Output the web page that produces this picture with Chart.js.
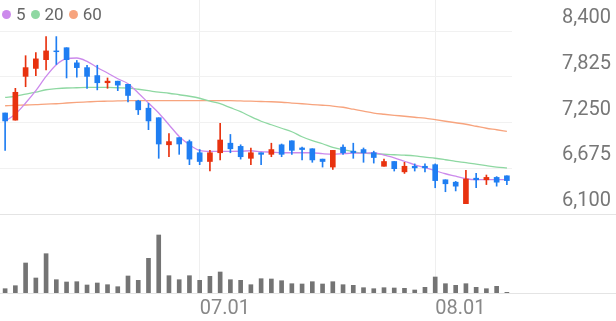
<!DOCTYPE html>
<html>
<head>
<meta charset="utf-8">
<script src="https://cdn.jsdelivr.net/npm/chart.js@4"></script>
<style>
  body { margin: 0; background: #fff; }
  #wrap { position: relative; width: 616px; height: 321px; }
  #legend { position: absolute; left: 2px; top: 4px; font: 17px Roboto, sans-serif; color: #666; display: flex; align-items: center; }
  #legend span.dot { display: inline-block; width: 9px; height: 9px; border-radius: 50%; margin-right: 5px; }
  #legend span.txt { margin-right: 5px; }
</style>
</head>
<body>
<div id="wrap">
  <canvas id="myChart" width="616" height="321"></canvas>
  <div id="legend"></div>
</div>
<script>
// 날짜 (거래일)
const labels = ['06.03','06.04','06.05','06.07','06.10','06.11','06.12','06.13','06.14','06.17',
    '06.18','06.19','06.20','06.21','06.24','06.25','06.26','06.27','06.28','07.01',
    '07.02','07.03','07.04','07.05','07.08','07.09','07.10','07.11','07.12','07.15',
    '07.16','07.17','07.18','07.19','07.22','07.23','07.24','07.25','07.26','07.29',
    '07.30','07.31','08.01','08.02','08.05','08.06','08.07','08.08','08.09','08.12'];
const monthTicks = ['07.01', '08.01'];

// 시가 / 종가 / 고가 / 저가
const open = [7370, 7280, 7830, 7930, 8040, 8150, 8190, 8000, 7940, 7840, 7750, 7770, 7730, 7520, 7430, 7310, 6970, 7060, 7010, 6870,
    6760, 6870, 6990, 6950, 6800, 6870, 6850, 6970, 7020, 6930, 6920, 6790, 6690, 6940, 6890, 6910, 6870, 6700, 6760, 6630,
    6700, 6700, 6720, 6530, 6500, 6230, 6550, 6530, 6560, 6580];
const close = [7270, 7630, 7940, 8050, 8150, 8140, 8040, 7940, 7830, 7750, 7770, 7720, 7590, 7410, 7270, 6980, 7010, 6980, 6790, 6760,
    6870, 7030, 6920, 6820, 6870, 6850, 6910, 6850, 6900, 6910, 6780, 6760, 6900, 6870, 6870, 6870, 6810, 6760, 6670, 6700,
    6680, 6680, 6520, 6480, 6450, 6540, 6530, 6560, 6500, 6520];
const high = [7370, 7680, 8090, 8130, 8330, 8330, 8190, 8030, 7970, 7970, 7810, 7770, 7730, 7530, 7490, 7310, 7110, 7060, 7030, 6910,
    6900, 7240, 7100, 6970, 6930, 6870, 6990, 6980, 7020, 6940, 6920, 6790, 6900, 6970, 6990, 6930, 6890, 6790, 6760, 6750,
    6730, 6730, 6730, 6530, 6510, 6650, 6610, 6590, 6570, 6580];
const low = [6900, 7280, 7700, 7840, 7910, 7980, 7810, 7820, 7680, 7660, 7680, 7650, 7510, 7350, 7160, 6800, 6820, 6850, 6720, 6720,
    6640, 6780, 6870, 6790, 6720, 6720, 6820, 6820, 6850, 6780, 6750, 6690, 6660, 6850, 6800, 6750, 6740, 6700, 6640, 6610,
    6640, 6630, 6430, 6380, 6390, 6230, 6430, 6470, 6450, 6470];

// 이동평균선
const ma5 = [7264, 7357, 7495, 7650, 7829, 7976, 8052, 8061, 8018, 7942, 7872, 7800, 7738, 7621, 7495, 7369, 7222, 7075, 6971, 6899,
    6887, 6887, 6887, 6889, 6895, 6883, 6877, 6870, 6870, 6870, 6870, 6858, 6851, 6858, 6864, 6864, 6870, 6839, 6807, 6763,
    6719, 6682, 6644, 6606, 6575, 6543, 6531, 6531, 6531, 6531];
const ma20 = [7565, 7580, 7606, 7631, 7662, 7675, 7684, 7687, 7691, 7691, 7691, 7687, 7684, 7668, 7650, 7631, 7618, 7599, 7580, 7555,
    7518, 7486, 7436, 7386, 7323, 7266, 7222, 7178, 7134, 7071, 7021, 6983, 6939, 6908, 6883, 6864, 6858, 6851, 6845, 6839,
    6830, 6814, 6801, 6782, 6761, 6745, 6726, 6707, 6690, 6678];
const ma60 = [7461, 7465, 7470, 7474, 7482, 7486, 7495, 7503, 7509, 7515, 7518, 7521, 7524, 7524, 7524, 7524, 7524, 7524, 7524, 7524,
    7524, 7524, 7524, 7521, 7518, 7514, 7511, 7505, 7495, 7486, 7476, 7467, 7457, 7442, 7417, 7392, 7369, 7354, 7341, 7329,
    7316, 7304, 7285, 7266, 7247, 7228, 7203, 7178, 7159, 7138];

// 거래량 (천주)
const volume = [43, 73, 300, 150, 393, 133, 110, 113, 80, 100, 83, 63, 170, 127, 347, 580, 173, 133, 173, 127,
    167, 210, 133, 127, 83, 143, 140, 123, 93, 90, 113, 90, 113, 83, 77, 53, 43, 53, 50, 47,
    30, 57, 160, 93, 77, 93, 57, 43, 67, 7];

const priceTicks = [6100, 6675, 7250, 7825, 8400];

const UP = '#e8320f';
const DOWN = '#1f7ef2';
const maLines = [
    { label: '5', data: ma5, color: '#cc8aec' },
    { label: '20', data: ma20, color: '#8ed8a2' },
    { label: '60', data: ma60, color: '#f7a47e' }
];

const candleColors = open.map((o, i) => close[i] >= o ? UP : DOWN);

// 패널 구분선 (전체 폭)
const panelLines = {
    id: 'panelLines',
    beforeDatasetsDraw(chart) {
        const { ctx, width, scales } = chart;
        ctx.save();
        ctx.strokeStyle = '#e4e4e4';
        ctx.lineWidth = 1;
        [scales.y.getPixelForValue(priceTicks[0]), scales.yv.getPixelForValue(0)].forEach(y => {
            ctx.beginPath();
            ctx.moveTo(0, Math.round(y) + 0.5);
            ctx.lineTo(width, Math.round(y) + 0.5);
            ctx.stroke();
        });
        ctx.restore();
    }
};

// 축 라벨 때문에 차트 영역이 줄어들지 않게
function noPadding(s) {
    s.paddingTop = 0;
    s.paddingBottom = 0;
    s.paddingLeft = 0;
    s.paddingRight = 0;
}

function createChart() {
    const datasets = [
        {
            type: 'bar', label: 'body', data: open.map((o, i) => [o, close[i]]),
            backgroundColor: candleColors, barThickness: 5, grouped: false, order: 0, yAxisID: 'y'
        },
        {
            type: 'bar', label: 'wick', data: low.map((l, i) => [l, high[i]]),
            backgroundColor: candleColors, barThickness: 1, grouped: false, order: 1, yAxisID: 'y'
        },
        ...maLines.map(m => ({
            type: 'line', label: m.label, data: m.data, borderColor: m.color, borderWidth: 1.3,
            pointRadius: 0, cubicInterpolationMode: 'monotone', order: 2, yAxisID: 'y'
        })),
        {
            type: 'bar', label: 'volume', data: volume, backgroundColor: '#747474',
            barThickness: 4, grouped: false, order: 3, yAxisID: 'yv'
        }
    ];

    new Chart(document.getElementById('myChart'), {
        type: 'bar',
        data: { labels, datasets },
        plugins: [panelLines],
        options: {
            responsive: false,
            animation: false,
            layout: { padding: 0 },
            plugins: { legend: { display: false }, tooltip: { enabled: false } },
            scales: {
                x: {
                    offset: true,
                    border: { display: false },
                    grid: {
                        offset: false, drawTicks: false,
                        color: c => monthTicks.includes(labels[c.index]) ? '#efefef' : 'rgba(0,0,0,0)'
                    },
                    ticks: {
                        autoSkip: false, maxRotation: 0, align: 'start', padding: 4,
                        color: '#888', font: { family: 'Roboto', size: 20 },
                        callback: (v, i) => monthTicks.includes(labels[i]) ? labels[i] : ''
                    },
                    afterFit: s => { s.height = 28; noPadding(s); }
                },
                y: {
                    position: 'right',
                    min: 5107, max: 8790,
                    border: { display: false },
                    grid: { color: '#f1f1f1', drawTicks: false },
                    afterBuildTicks: s => { s.ticks = priceTicks.map(v => ({ value: v })); },
                    ticks: {
                        padding: 50, labelOffset: -13,
                        color: '#777', font: { family: 'Roboto', size: 20 },
                        callback: v => v.toLocaleString('en-US')
                    },
                    afterFit: s => { s.width = 104; noPadding(s); }
                },
                yv: {
                    display: false,
                    position: 'right',
                    min: 0, max: 2930
                }
            }
        }
    });

    document.getElementById('legend').innerHTML = maLines.map(m =>
        `<span class="dot" style="background:${m.color}"></span><span class="txt">${m.label}</span>`
    ).join('');
}

createChart();
</script>
</body>
</html>
